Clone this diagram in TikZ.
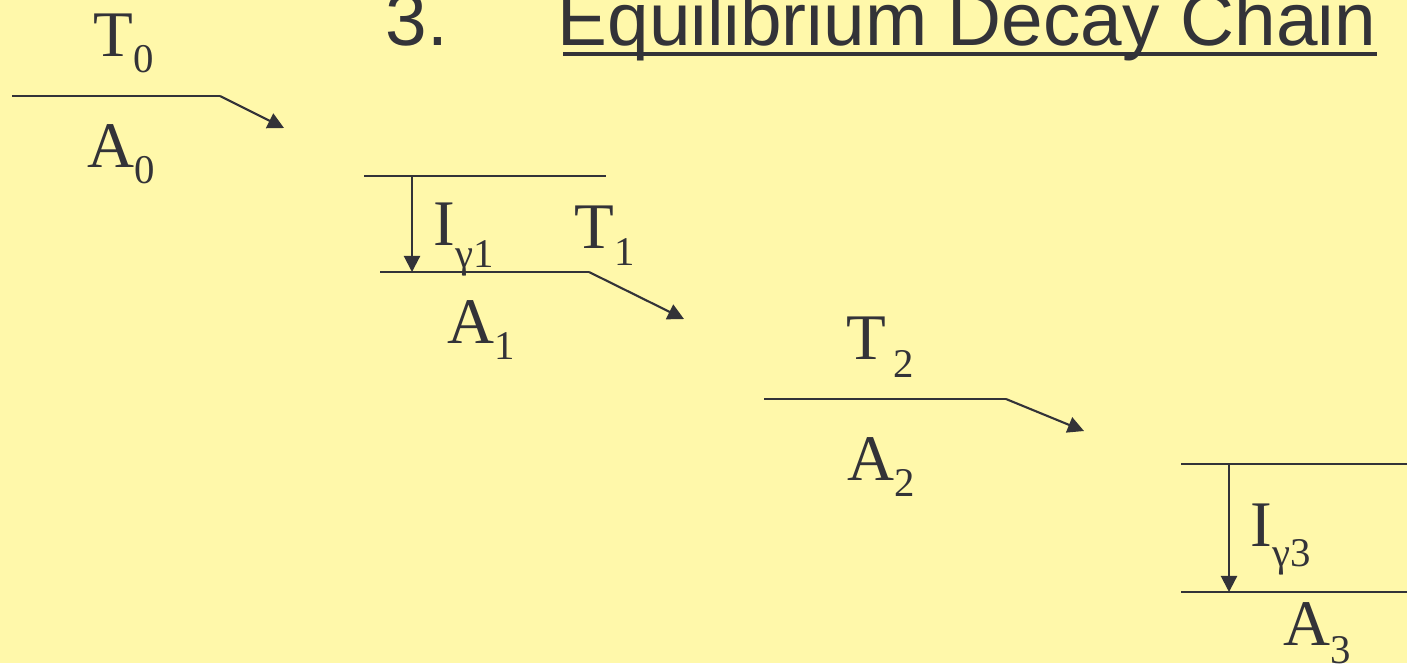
\documentclass[tikz,border=0pt]{standalone}
\usepackage{fontspec}
\setmainfont{Liberation Serif}
\newfontfamily\titlefont{Liberation Sans}
\usetikzlibrary{arrows.meta,calc,positioning}
\definecolor{slidebg}{HTML}{FFF8AA}
\definecolor{ink}{HTML}{333338}
% lowered small index
\newcommand{\lsub}[2][0.25em]{\raisebox{-#1}{\fontsize{11.6pt}{14pt}\selectfont #2}}

\begin{document}
\begin{tikzpicture}[x=0.01cm, y=-0.01cm,
  level/.style={ink, line width=0.6pt},
  decay/.style={ink, line width=0.6pt, -{Triangle[length=4.6pt, width=4.6pt]}},
  lbl/.style={anchor=base west, inner sep=0pt, text=ink, font=\fontsize{18.5pt}{20pt}\selectfont}]

% Sfondo
\useasboundingbox (0,0) rectangle (1407,663);
\fill[slidebg] (0,0) rectangle (1407,663);

% Titolo
\node[anchor=base west, inner sep=0pt, text=ink, font=\titlefont\fontsize{21.25pt}{24pt}\selectfont] (num) at (385,45) {3.};
\node[anchor=base west, inner sep=0pt, text=ink, font=\titlefont\fontsize{21.25pt}{24pt}\selectfont] (title) at (557,45) {Equilibrium Decay Chain};
\draw[ink, line width=1.4pt] ($(title.base west)+(6,9)$) -- ($(title.base east)+(0,9)$);

% Livello 0
\coordinate (l0a) at (12,96);
\coordinate (l0b) at (220,96);
\coordinate (l0c) at (284,128);
\draw[level] (l0a) -- (l0b);
\draw[decay] (l0b) -- (l0c);
\node[lbl] (t0) at (93,56) {T\lsub{0}};
\node[lbl] (a0) at (87,167) {A\lsub{0}};

% Livello 1
\coordinate (u1a) at (364,176);
\coordinate (u1b) at (606,176);
\coordinate (l1a) at (380,272);
\coordinate (l1b) at (589,272);
\coordinate (l1c) at (684,319);
\draw[level] (u1a) -- (u1b);
\draw[level] (l1a) -- (l1b);
\draw[decay] (l1b) -- (l1c);
\coordinate (g1a) at (412,176);
\coordinate (g1b) at (412,272);
\draw[decay] (g1a) -- (g1b);
\node[lbl] (ig1) at (433,245) {I\lsub[0.34em]{γ1}};
\node[lbl] (t1) at (574,248) {T\lsub[0.27em]{1}};
\node[lbl] (a1) at (447,343) {A\lsub{1}};

% Livello 2
\coordinate (l2a) at (764,399);
\coordinate (l2b) at (1006,399);
\coordinate (l2c) at (1084,431);
\draw[level] (l2a) -- (l2b);
\draw[decay] (l2b) -- (l2c);
\node[lbl] (t2) at (846,359) {T\lsub[0.29em]{\hspace{2pt}2}};
\node[lbl] (a2) at (847,480) {A\lsub{2}};

% Livello 3
\coordinate (u3a) at (1181,464);
\coordinate (u3b) at (1407,464);
\coordinate (l3a) at (1181,592);
\coordinate (l3b) at (1407,592);
\draw[level] (u3a) -- (u3b);
\draw[level] (l3a) -- (l3b);
\coordinate (g3a) at (1229,464);
\coordinate (g3b) at (1229,592);
\draw[decay] (g3a) -- (g3b);
\node[lbl] (ig3) at (1250,546) {I\lsub[0.31em]{γ3}};
\node[lbl] (a3) at (1283,645) {A\lsub[0.29em]{3}};

\end{tikzpicture}
\end{document}
